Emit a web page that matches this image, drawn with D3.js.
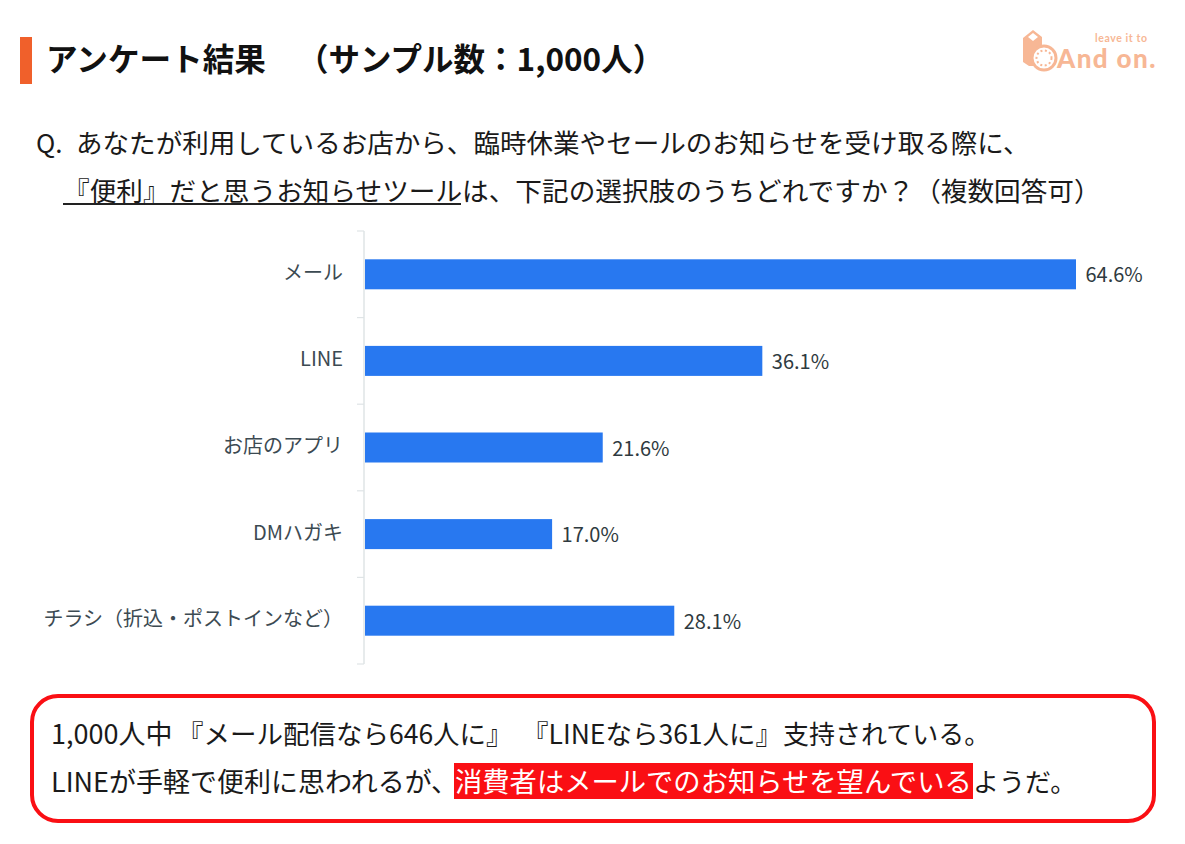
<!DOCTYPE html>
<html><head><meta charset="utf-8">
<script src="https://cdn.jsdelivr.net/npm/d3@7"></script>
<style>html,body{margin:0;padding:0;background:#fff;overflow:hidden}svg{display:block}text{font-family:"Noto Sans CJK JP","Noto Sans",sans-serif}</style>
</head><body><svg id="c" width="1185" height="844"></svg>
<script>
const categories=["メール","LINE","お店のアプリ","DMハガキ","チラシ（折込・ポストインなど）"];
const values=[64.6,36.1,21.6,17.0,28.1];
const valueLabels=["64.6%","36.1%","21.6%","17.0%","28.1%"];
const svg=d3.select("#c");
const ink="#1a1a1a";
function t(x,y,size,s,fill,weight){return svg.append("text").attr("x",x).attr("y",y).attr("font-size",size).attr("font-weight",weight||400).attr("fill",fill||ink).text(s);}
svg.append("rect").attr("x",20).attr("y",37).attr("width",12).attr("height",47).attr("fill","#f0602b");
t(46,71,31.6,"アンケート結果","#111",700);
t(297,71,31.5,"（サンプル数：1,000人）","#111",700);
t(36,153,26,"Q.");
t(76,153,26.55,"あなたが利用しているお店から、臨時休業やセールのお知らせを受け取る際に、");
t(63,201,26.65,"『便利』だと思うお知らせツールは、下記の選択肢のうちどれですか？（複数回答可）");
svg.append("line").attr("x1",63).attr("x2",461).attr("y1",204).attr("y2",204).attr("stroke","#222").attr("stroke-width",2);

// logo
const logo=svg.append("g").attr("fill","#f7b795").attr("stroke","none");
logo.append("path").attr("d","M1023 38L1033 30L1042 37V50L1036 52L1032 60L1035 66H1029L1023 62Z");
logo.append("path").attr("d","M1028 37L1033 33L1038 37L1033 41Z").attr("fill","#fff");
logo.append("circle").attr("cx",1044).attr("cy",58).attr("r",12).attr("fill","#fff").attr("stroke","#f7b795").attr("stroke-width",3);
logo.append("circle").attr("cx",1044).attr("cy",58).attr("r",7.5).attr("fill","#fff").attr("stroke","#f7b795").attr("stroke-width",2).attr("stroke-dasharray","2 2.5");
logo.append("text").attr("x",1095).attr("y",42).attr("font-size",10.5).attr("font-weight",700).attr("letter-spacing",.6).style("font-family","Lato").text("leave it to");
logo.append("text").attr("x",1057).attr("y",68).attr("font-size",26).attr("font-weight",900).attr("letter-spacing",1.4).style("font-family","Lato").text("And on.");

// chart
const x=d3.scaleLinear().domain([0,64.6]).range([365,1076]);
const y=d3.scaleBand().domain(categories).range([231,664]);
const barH=30;
const axisG=svg.append("g").attr("transform","translate(364,0)").call(d3.axisLeft(y).tickSize(0).tickPadding(0));
axisG.selectAll(".domain").attr("stroke","#dfe4e6").attr("stroke-width",1.5).attr("d","M0,231V664");
axisG.selectAll(".tick text").remove();
const sep=d3.range(categories.length+1).map(i=>231+i*y.step());
svg.append("g").selectAll("line").data(sep).join("line")
 .attr("x1",357).attr("x2",364).attr("y1",d=>d).attr("y2",d=>d).attr("stroke","#dfe4e6").attr("stroke-width",1.2);
svg.append("g").selectAll("text").data(categories).join("text")
 .attr("x",343).attr("y",d=>y(d)+y.bandwidth()/2+5.5).attr("text-anchor","end")
 .attr("font-size",20).attr("fill","#3c4a52").text(d=>d);
const rows=categories.map((c,i)=>({c,v:values[i],l:valueLabels[i]}));
svg.append("g").selectAll("rect").data(rows).join("rect")
 .attr("x",x(0)).attr("y",d=>y(d.c)+y.bandwidth()/2-barH/2).attr("width",d=>x(d.v)-x(0)).attr("height",barH).attr("fill","#2878f0");
svg.append("g").selectAll("text").data(rows).join("text")
 .attr("x",d=>x(d.v)+9.5).attr("y",d=>y(d.c)+y.bandwidth()/2+8).attr("font-size",20).attr("fill","#2f3a40").text(d=>d.l);

// callout
svg.append("rect").attr("x",32).attr("y",696).attr("width",1122).attr("height",125).attr("rx",26).attr("fill","#fff").attr("stroke","#fa0f14").attr("stroke-width",4);
t(51,744,27,"1,000人中");
t(177,744,26.5,"『メール配信なら646人に』");
t(522,744,26.5,"『LINEなら361人に』");
t(783,744,26,"支持されている。");
t(51,792,27,"LINEが手軽で便利に思われるが、");
svg.append("rect").attr("x",454).attr("y",763).attr("width",519).attr("height",36).attr("fill","#fa0f14");
t(455,792,27.3,"消費者はメールでのお知らせを望んでいる","#fff");
t(973,792,26,"ようだ。");
</script></body></html>
